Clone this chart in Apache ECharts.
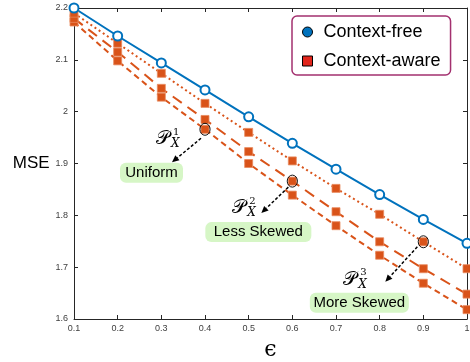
<!DOCTYPE html>
<html>
<head>
<meta charset="utf-8">
<script src="https://cdn.jsdelivr.net/npm/echarts@6/dist/echarts.min.js"></script>
<style>
html,body{margin:0;padding:0;background:#fff;}
#chart{width:470px;height:362px;}
</style>
</head>
<body>
<div id="chart"></div>
<script>
// ---- data ----
const epsilon = [0.1, 0.2, 0.3, 0.4, 0.5, 0.6, 0.7, 0.8, 0.9, 1.0];
const contextFree = [2.200, 2.146, 2.094, 2.042, 1.990, 1.939, 1.889, 1.840, 1.792, 1.746];
const awareDotted = [2.190, 2.132, 2.074, 2.016, 1.960, 1.905, 1.852, 1.802, 1.749, 1.697];
const awareDashed = [2.180, 2.115, 2.045, 1.985, 1.923, 1.866, 1.807, 1.749, 1.697, 1.648];
const awareDashDot = [2.173, 2.098, 2.028, 1.966, 1.900, 1.839, 1.780, 1.723, 1.669, 1.618];
const yTicks = [1.6, 1.7, 1.8, 1.9, 2.0, 2.1, 2.2];
const legendNames = ['Context-free', 'Context-aware'];
// annotations: highlighted point (epsilon index + series), superscript and caption
const annotationLabels = ['Uniform', 'Less Skewed', 'More Skewed'];
const annotationSup = ['1', '2', '3'];
const annotationIdx = [3, 5, 8];
const annotationSeries = [awareDashDot, awareDashed, awareDotted];

const BLUE = '#0072BD', ORANGE = '#D95319', AXIS = '#262626';
const pairs = arr => epsilon.map((e, i) => [e, arr[i]]);

const chart = echarts.init(document.getElementById('chart'), null, {renderer: 'canvas'});

const axisCommon = {
  axisLine: {show: true, onZero: false, lineStyle: {color: AXIS, width: 1}},
  axisTick: {show: true, inside: true, length: 4, lineStyle: {color: AXIS}},
  splitLine: {show: false}
};

chart.setOption({
  animation: false,
  backgroundColor: '#fff',
  grid: {left: 74, right: 3, top: 8, bottom: 43, containLabel: false, outerBoundsMode: 'none'},
  xAxis: [
    Object.assign({
      type: 'value', min: 0.1, max: 1, interval: 0.1, position: 'bottom',
      name: 'ϵ', nameLocation: 'middle', nameGap: 20,
      nameTextStyle: {fontFamily: 'DejaVu Serif', fontSize: 22, color: '#000'},
      axisLabel: {fontSize: 9, color: '#404040', margin: 5, fontFamily: 'Liberation Sans',
        formatter: v => String(+v.toFixed(2))}
    }, axisCommon),
    Object.assign({
      type: 'value', min: 0.1, max: 1, interval: 0.1, position: 'top',
      axisLabel: {show: false}
    }, axisCommon)
  ],
  yAxis: [
    Object.assign({
      type: 'value', min: yTicks[0], max: yTicks[yTicks.length - 1], interval: 0.1, position: 'left',
      name: 'MSE', nameLocation: 'middle', nameRotate: 0, nameGap: 20,
      nameTextStyle: {fontFamily: 'Liberation Sans', fontSize: 17, color: '#000', align: 'right'},
      axisLabel: {fontSize: 9, color: '#404040', margin: 6, fontFamily: 'Liberation Sans',
        formatter: v => String(+v.toFixed(2))}
    }, axisCommon),
    Object.assign({
      type: 'value', min: yTicks[0], max: yTicks[yTicks.length - 1], interval: 0.1, position: 'right',
      axisLabel: {show: false}
    }, axisCommon)
  ],
  legend: {
    orient: 'vertical', left: 292, top: 16,
    padding: [7, 10, 5, 10], itemGap: 11,
    itemWidth: 10, itemHeight: 10,
    borderColor: '#a3306f', borderWidth: 1.5, borderRadius: 5,
    backgroundColor: '#fff',
    textStyle: {fontFamily: 'Liberation Sans', fontSize: 18, color: '#000', padding: [0, 0, 0, 6]},
    data: [
      {name: legendNames[0], icon: 'circle', itemStyle: {color: BLUE, borderColor: '#000', borderWidth: 1}},
      {name: legendNames[1], icon: 'rect', itemStyle: {color: '#e2261c', borderColor: '#000', borderWidth: 1}}
    ]
  },
  series: [
    {
      name: legendNames[1], type: 'line', data: pairs(awareDashDot),
      symbol: 'rect', symbolSize: 8, clip: false,
      itemStyle: {color: ORANGE, borderColor: '#e98a5e', borderWidth: 0.8}, lineStyle: {color: ORANGE, width: 2, type: [6, 4]}
    },
    {
      name: legendNames[1], type: 'line', data: pairs(awareDashed),
      symbol: 'rect', symbolSize: 8, clip: false,
      itemStyle: {color: ORANGE, borderColor: '#e98a5e', borderWidth: 0.8}, lineStyle: {color: ORANGE, width: 2, type: [11, 7]}
    },
    {
      name: legendNames[1], type: 'line', data: pairs(awareDotted),
      symbol: 'rect', symbolSize: 8, clip: false,
      itemStyle: {color: ORANGE, borderColor: '#e98a5e', borderWidth: 0.8}, lineStyle: {color: ORANGE, width: 2, type: [2, 3]}
    },
    {
      name: legendNames[0], type: 'line', data: pairs(contextFree),
      symbol: 'emptyCircle', symbolSize: 9, clip: false,
      itemStyle: {color: BLUE, borderWidth: 2}, lineStyle: {color: BLUE, width: 2}
    }
  ]
});

// ---- annotations placed relative to the highlighted data points ----
const layout = [
  {arrowFrom: [-4, 9], arrowTo: [-33, 33], label: [-49, 10], box: [-53.5, 43.5], boxW: 63},
  {arrowFrom: [-4, 6], arrowTo: [-31, 32], label: [-60, 27], box: [-34, 51], boxW: 106},
  {arrowFrom: [-6, 5], arrowTo: [-38, 40], label: [-80, 38], box: [-64, 61], boxW: 99}
];
const graphics = [];
annotationLabels.forEach((txt, k) => {
  const i = annotationIdx[k];
  const c = chart.convertToPixel({gridIndex: 0}, [epsilon[i], annotationSeries[k][i]]);
  const L = layout[k];
  graphics.push({type: 'circle', shape: {cx: 0, cy: 0, r: 6}, x: c[0], y: c[1], scaleX: 0.85,
    style: {fill: 'none', stroke: '#000', lineWidth: 1}, z: 100});
  const x1 = c[0] + L.arrowFrom[0], y1 = c[1] + L.arrowFrom[1];
  const x2 = c[0] + L.arrowTo[0], y2 = c[1] + L.arrowTo[1];
  const dx = x2 - x1, dy = y2 - y1, len = Math.hypot(dx, dy);
  const ux = dx / len, uy = dy / len, hl = 7, hw = 3.2;
  const bx = x2 - ux * hl, by = y2 - uy * hl;
  graphics.push({type: 'line', shape: {x1: x1, y1: y1, x2: bx, y2: by},
    style: {stroke: '#000', lineWidth: 1.5, lineDash: [3, 2]}, z: 100});
  graphics.push({type: 'polygon', shape: {points: [[x2, y2], [bx - uy * hw, by + ux * hw], [bx + uy * hw, by - ux * hw]]},
    style: {fill: '#000'}, z: 100});
  const lx = c[0] + L.label[0], ly = c[1] + L.label[1];
  graphics.push({type: 'text', x: lx, y: ly, z: 100,
    style: {text: '𝒫', font: '19px "DejaVu Serif", serif', fill: '#000', verticalAlign: 'middle', align: 'left'}});
  graphics.push({type: 'text', x: lx + 17, y: ly - 7, z: 100,
    style: {text: annotationSup[k], font: '10px "DejaVu Serif", serif', fill: '#000', verticalAlign: 'middle', align: 'left'}});
  graphics.push({type: 'text', x: lx + 15, y: ly + 5, z: 100,
    style: {text: 'X', font: 'italic 12px "DejaVu Serif", serif', fill: '#000', verticalAlign: 'middle', align: 'left'}});
  const bxc = c[0] + L.box[0], byc = c[1] + L.box[1];
  graphics.push({type: 'rect', z: 99,
    shape: {x: bxc - L.boxW / 2, y: byc - 10, width: L.boxW, height: 20, r: 6},
    style: {fill: '#d6f6c6', stroke: 'none'}});
  graphics.push({type: 'text', x: bxc, y: byc, z: 100,
    style: {text: txt, font: '15px "Liberation Sans", Arial, sans-serif', fill: '#000', align: 'center', verticalAlign: 'middle'}});
});
chart.setOption({graphic: graphics});
</script>
</body>
</html>
